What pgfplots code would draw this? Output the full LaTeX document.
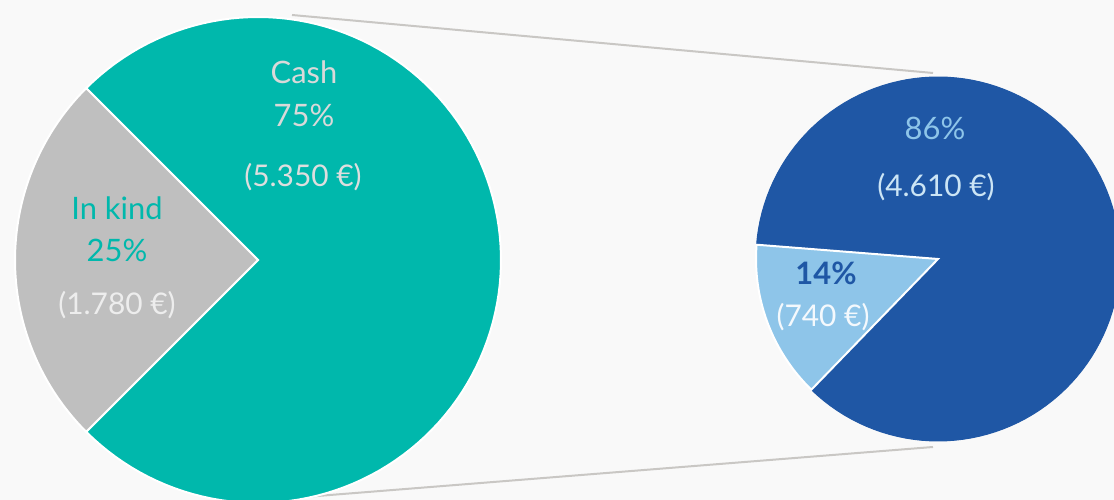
\documentclass[border=0pt]{standalone}
\usepackage{pgfplots}
\pgfplotsset{compat=1.18}
\usepackage{fontspec}
\setmainfont{Lato}
\definecolor{bgc}{HTML}{F9F9F9}
\definecolor{cteal}{HTML}{00B8AC}
\definecolor{cgray}{HTML}{BFBFBF}
\definecolor{cdark}{HTML}{1F57A5}
\definecolor{clight}{HTML}{8EC5E9}
\definecolor{cline}{HTML}{C9C7C4}
% Data: amounts in EUR
% Left pie: In kind 1780 (25%), Cash 5350 (75%)
% Right pie (breakdown of Cash): 740 (14%), 4610 (86%)
\begin{document}
\begin{tikzpicture}
\begin{axis}[
  width=1114bp, height=500bp, scale only axis,
  xmin=0, xmax=1114, ymin=0, ymax=500,
  hide axis, clip=true,
]
\fill[bgc] (rel axis cs:0,0) rectangle (rel axis cs:1,1);
% connector lines
\addplot[cline, line width=2bp] coordinates {(292,485) (933,427)};
\addplot[cline, line width=2bp] coordinates {(305,3) (933,53)};
% left pie: In kind 25% -> 90 deg centred at 180; Cash 75%
\addplot[fill=cteal, draw=white, line width=2bp, domain=225:495, samples=120]
  ({258+243*cos(x)},{240+243*sin(x)}) -- (axis cs:258,240) -- cycle;
\addplot[fill=cgray, draw=white, line width=2bp, domain=135:225, samples=60]
  ({258+243*cos(x)},{240+243*sin(x)}) -- (axis cs:258,240) -- cycle;
% right pie: 14% (50.4 deg) and 86%
\addplot[fill=cdark, draw=cdark, line width=1bp, domain=225.9:535.5, samples=120]
  ({938+182*cos(x)},{241+182*sin(x)}) -- (axis cs:938,241) -- cycle;
\addplot[fill=clight, draw=white, line width=2bp, domain=175.5:225.9, samples=40]
  ({938+182*cos(x)},{241+182*sin(x)}) -- (axis cs:938,241) -- cycle;
% labels
\node[font=\fontsize{31}{34}\selectfont, text=white!85!black] at (axis cs:304,428) {Cash};
\node[font=\fontsize{31}{34}\selectfont, text=white!85!black] at (axis cs:304,385) {75\%};
\node[font=\fontsize{30}{34}\selectfont, text=white!87!black] at (axis cs:303,323) {(5.350 €)};
\node[font=\fontsize{31}{34}\selectfont, text=cteal] at (axis cs:117,292) {In kind};
\node[font=\fontsize{31}{34}\selectfont, text=cteal] at (axis cs:117,250) {25\%};
\node[font=\fontsize{30}{34}\selectfont, text=white!93!black] at (axis cs:117,195) {(1.780 €)};
\node[font=\fontsize{31}{34}\selectfont, text=clight] at (axis cs:935,372) {86\%};
\node[font=\fontsize{30}{34}\selectfont, text=white!55!clight] at (axis cs:936,313) {(4.610 €)};
\node[font=\bfseries\fontsize{31}{34}\selectfont, text=cdark] at (axis cs:826,227) {14\%};
\node[font=\fontsize{30}{34}\selectfont, text=white!90!clight] at (axis cs:823,183) {(740 €)};
\end{axis}
\end{tikzpicture}
\end{document}
